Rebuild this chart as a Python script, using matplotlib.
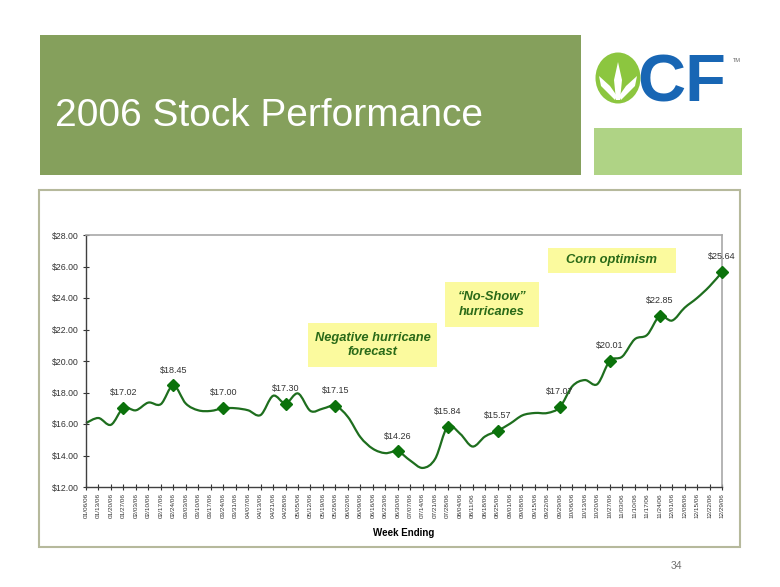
import numpy as np
import matplotlib
matplotlib.use("Agg")
import matplotlib.pyplot as plt
from matplotlib.path import Path
from matplotlib.patches import PathPatch, Rectangle, Ellipse, Polygon

# Weekly closing prices, CF Industries, 2006
weeks = ["01/06/06", "01/13/06", "01/20/06", "01/27/06", "02/03/06", "02/10/06",
         "02/17/06", "02/24/06", "03/03/06", "03/10/06", "03/17/06", "03/24/06",
         "03/31/06", "04/07/06", "04/13/06", "04/21/06", "04/28/06", "05/05/06",
         "05/12/06", "05/19/06", "05/26/06", "06/02/06", "06/09/06", "06/16/06",
         "06/23/06", "06/30/06", "07/07/06", "07/14/06", "07/21/06", "07/28/06",
         "08/04/06", "08/11/06", "08/18/06", "08/25/06", "09/01/06", "09/08/06",
         "09/15/06", "09/22/06", "09/29/06", "10/06/06", "10/13/06", "10/20/06",
         "10/27/06", "11/03/06", "11/10/06", "11/17/06", "11/24/06", "12/01/06",
         "12/08/06", "12/15/06", "12/22/06", "12/29/06"]
prices = [16.06, 16.38, 15.95, 17.02, 16.87, 17.36, 17.26, 18.45, 17.30, 16.87,
          16.83, 17.00, 17.00, 16.87, 16.57, 17.79, 17.30, 17.94, 16.83, 16.98,
          17.15, 16.45, 15.17, 14.43, 14.15, 14.26, 13.68, 13.21, 13.79, 15.84,
          15.38, 14.57, 15.21, 15.57, 16.02, 16.55, 16.70, 16.70, 17.07, 18.40,
          18.79, 18.53, 20.01, 20.28, 21.38, 21.66, 22.85, 22.57, 23.38, 24.00,
          24.74, 25.64]
# weeks that get a marker and a price label
marked_weeks = ["01/27/06", "02/24/06", "03/24/06", "04/28/06", "05/26/06", "06/30/06",
                "07/28/06", "08/25/06", "09/29/06", "10/27/06", "11/24/06", "12/29/06"]

callouts = ["Negative hurricane\nforecast", "\u201cNo-Show\u201d\nhurricanes", "Corn optimism"]

line_green = "#1e6e1e"
marker_green = "#0b720b"
callout_text = "#2a6a18"

fig = plt.figure(figsize=(7.8, 5.87), dpi=100)

# page decorations, drawn in pixel coordinates
bg = fig.add_axes([0, 0, 1, 1], zorder=0)
bg.set_xlim(0, 780)
bg.set_ylim(587, 0)
bg.axis("off")

bg.add_patch(Rectangle((40, 35), 541, 140, color="#85a05c", lw=0))
bg.add_patch(Rectangle((594, 128), 148, 47, color="#afd385", lw=0))
bg.text(55, 126, "2006 Stock Performance", color="white", fontsize=28,
        family="Liberation Sans", va="baseline", ha="left")

# CF logo
bg.add_patch(Ellipse((618, 78), 45, 51, color="#8cc63f", lw=0))
bg.add_patch(Polygon([(616, 100), (614, 80), (618, 62), (622, 80), (620, 100)],
                     color="white", lw=0))
bg.add_patch(Polygon([(615, 100), (601, 86), (599, 76), (610, 86), (617, 96)],
                     color="white", lw=0))
bg.add_patch(Polygon([(621, 100), (635, 86), (637, 76), (626, 86), (619, 96)],
                     color="white", lw=0))
bg.text(637, 101, "CF", color="#1866b4", fontsize=48, fontweight="bold",
        family="Liberation Sans", va="baseline", ha="left")
bg.text(733, 60, "TM", color="#666666", fontsize=4, family="Liberation Sans",
        va="center", ha="left")

# chart frame and page number
bg.add_patch(Rectangle((39, 190), 701, 357, fill=False, ec="#b6b99c", lw=1.5))
bg.text(676, 566, "34", color="#707070", fontsize=7.5, family="Liberation Sans",
        ha="center", va="center")

# call-out boxes
boxes = [(308, 323, 129, 44), (445, 282, 94, 45), (548, 248, 128, 25)]
for (bx, by, bw, bh), txt in zip(boxes, callouts):
    bg.add_patch(Rectangle((bx, by), bw, bh, color="#fbfa9e", lw=0))
    bg.text(bx + bw / 2, by + bh / 2, txt, color=callout_text, fontsize=9.3,
            family="Liberation Sans", style="italic",
            fontweight="bold", ha="center", va="center", linespacing=1.25)

# the chart
ax = fig.add_axes([86 / 780, 1 - 487 / 587, 636 / 780, 252 / 587], zorder=1)
ax.patch.set_alpha(0)
x = np.arange(len(prices))
y = np.array(prices)

# smoothed line through the weekly prices (Catmull-Rom as cubic Bezier)
verts = [(x[0], y[0])]
codes = [Path.MOVETO]
n = len(x)
for i in range(n - 1):
    p0 = max(i - 1, 0)
    p3 = min(i + 2, n - 1)
    c1 = (x[i] + (x[i + 1] - x[p0]) / 6, y[i] + (y[i + 1] - y[p0]) / 6)
    c2 = (x[i + 1] - (x[p3] - x[i]) / 6, y[i + 1] - (y[p3] - y[i]) / 6)
    verts += [c1, c2, (x[i + 1], y[i + 1])]
    codes += [Path.CURVE4] * 3
ax.add_patch(PathPatch(Path(verts, codes), fill=False, ec=line_green, lw=1.6,
                       clip_on=False))

mi = [weeks.index(w) for w in marked_weeks]
ax.plot(x[mi], y[mi], ls="none", marker="D", ms=6.5, color=marker_green,
        mec=marker_green, clip_on=False, zorder=3)
for i in mi:
    ax.annotate(f"${prices[i]:.2f}", (x[i], y[i]), xytext=(0, 11),
                textcoords="offset points", ha="center", va="center",
                fontsize=6.5, color="#333333", family="Liberation Sans")

ax.set_xlim(0, n - 1)
ax.set_ylim(12, 28)
ax.set_yticks(np.arange(12, 29, 2))
ax.set_yticklabels([f"${v:.2f}" for v in np.arange(12, 29, 2)])
ax.set_xticks(x)
ax.set_xticklabels(weeks, rotation=90)
ax.tick_params(axis="x", direction="inout", length=5, width=0.8, labelsize=4.6,
               pad=2, colors="#333333")
ax.tick_params(axis="y", direction="inout", length=4, width=0.8, labelsize=6.3,
               pad=3, colors="#333333")
for lab in ax.get_xticklabels() + ax.get_yticklabels():
    lab.set_family("Liberation Sans")
for side in ["left", "bottom"]:
    ax.spines[side].set_color("#404040")
    ax.spines[side].set_linewidth(1.0)
for side in ["top", "right"]:
    ax.spines[side].set_color("#a8a8a8")
    ax.spines[side].set_linewidth(1.2)
ax.set_xlabel("Week Ending", fontsize=7, fontweight="bold",
              family="Liberation Sans", labelpad=7)

fig.savefig("out.png", dpi=100)
